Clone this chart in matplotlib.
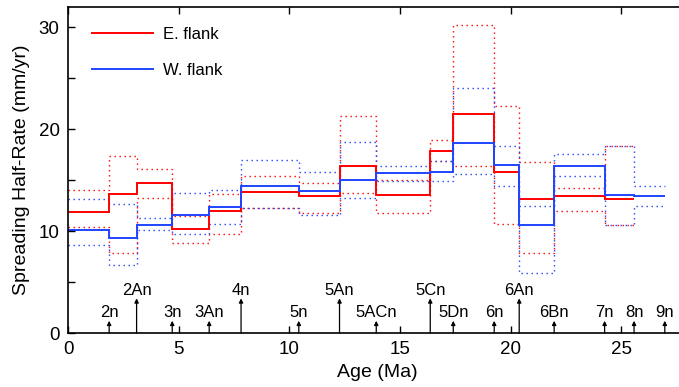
import matplotlib
matplotlib.use('Agg')
import matplotlib.pyplot as plt
from matplotlib.lines import Line2D

plt.rcParams['font.family'] = ['Liberation Sans', 'DejaVu Sans']

# Magnetic chrons (labels and ages, Ma)
chron_names = ['2n', '2An', '3n', '3An', '4n', '5n', '5An', '5ACn', '5Cn',
               '5Dn', '6n', '6An', '6Bn', '7n', '8n', '9n']
chron_ages = [1.86, 3.10, 4.71, 6.38, 7.82, 10.43, 12.27, 13.93, 16.37,
              17.41, 19.26, 20.39, 21.97, 24.25, 25.58, 26.97]
chron_major = ['2An', '4n', '5An', '5Cn', '6An']

# E. flank half-rates (mm/yr), one per interval from 0 Ma to chron 8n
east_rate = [11.9, 13.6, 14.76, 10.25, 11.98, 13.8, 13.45, 16.36, 13.58,
             17.89, 21.45, 15.77, 13.19, 13.42, 13.2]
east_upper = [14.0, 17.4, 16.06, 11.46, 13.68, 15.41, 14.76, 21.32, 14.99,
              18.93, 30.23, 22.26, 16.78, 14.27, 18.35]
east_lower = [10.45, 7.9, 13.3, 8.81, 9.67, 12.31, 11.82, 13.78, 11.79,
              16.85, 16.36, 10.71, 7.9, 11.98, 10.61]

# W. flank half-rates (mm/yr), one per interval from 0 Ma to chron 9n
west_rate = [10.1, 9.3, 10.63, 11.56, 12.33, 14.42, 13.98, 14.99, 15.7,
             15.77, 18.68, 16.45, 10.6, 16.36, 13.55, 13.49]
west_upper = [13.19, 12.7, 11.26, 13.78, 14.07, 17.02, 15.8, 18.71, 16.39,
              16.85, 24.06, 18.35, 12.51, 17.6, 18.35, 14.47]
west_lower = [8.62, 6.66, 10.09, 9.73, 10.74, 12.31, 11.56, 13.22, 14.9,
              14.96, 15.57, 14.47, 5.85, 15.44, 10.61, 12.51]

east_edges = [0.0] + chron_ages[:len(east_rate)]
west_edges = [0.0] + chron_ages[:len(west_rate)]

RED = '#ff0000'
BLUE = '#1f44ff'

fig = plt.figure(figsize=(6.79, 3.87), dpi=100)
ax = fig.add_axes([68 / 679, 1 - 333 / 387, (687.6 - 68) / 679, 326 / 387])

dot = (0, (1, 2.6))
for vals in (east_upper, east_lower):
    ax.stairs(vals, east_edges, baseline=None, color=RED, lw=1.0, linestyle=dot)
for vals in (west_upper, west_lower):
    ax.stairs(vals, west_edges, baseline=None, color=BLUE, lw=1.0, linestyle=dot)
ax.stairs(east_rate, east_edges, baseline=None, color=RED, lw=1.4)
ax.stairs(west_rate, west_edges, baseline=None, color=BLUE, lw=1.4)

# chron arrows and labels
for name, age in zip(chron_names, chron_ages):
    major = name in chron_major
    tip = 3.40 if major else 1.20
    base = 3.72 if major else 1.54
    ax.annotate('', xy=(age, tip), xytext=(age, 0),
                arrowprops=dict(arrowstyle='-|>', lw=0.9, color='black',
                                mutation_scale=6, shrinkA=0, shrinkB=0))
    ax.text(age, base, name, ha='center', va='baseline', fontsize=12)

ax.set_xlim(0, 28)
ax.set_ylim(0, 32)
ax.set_xticks([0, 5, 10, 15, 20, 25])
ax.set_yticks([0, 5, 10, 15, 20, 25, 30])
ax.set_yticklabels(['0', '', '10', '', '20', '', '30'])
ax.tick_params(direction='in', top=True, right=False, length=5, width=1.0,
               labelsize=13.5, pad=6)
for s in ('left', 'bottom', 'top'):
    ax.spines[s].set_linewidth(1.2)
ax.spines['right'].set_visible(False)

ax.set_xlabel('Age (Ma)', fontsize=14, labelpad=4)
ax.set_ylabel('Spreading Half-Rate (mm/yr)', fontsize=14, labelpad=6)

handles = [Line2D([], [], color=RED, lw=1.4), Line2D([], [], color=BLUE, lw=1.4)]
ax.legend(handles, ['E. flank', 'W. flank'], loc='upper left',
          bbox_to_anchor=(0.038, 0.94), frameon=False, fontsize=12,
          borderpad=0, borderaxespad=0, handlelength=3.7, handletextpad=0.6,
          labelspacing=1.3)

fig.savefig('out.png', dpi=100)
